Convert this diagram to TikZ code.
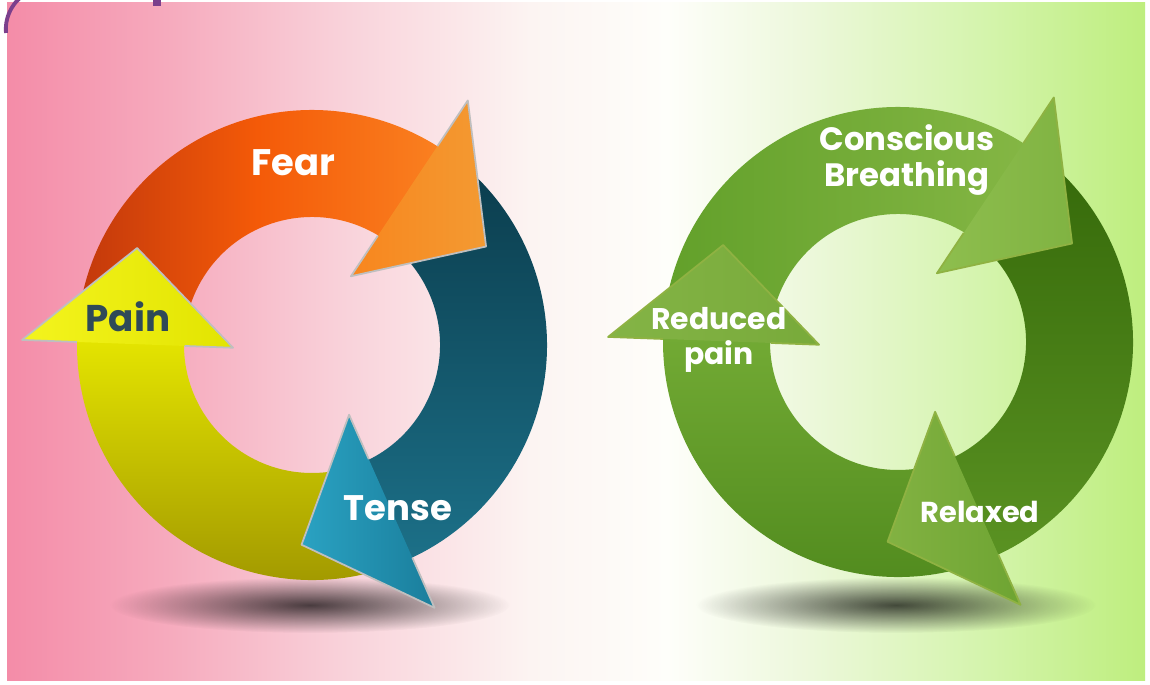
\documentclass[tikz,border=0pt]{standalone}
\usepackage{fontspec}
\setmainfont{Poppins}
\usetikzlibrary{fadings,calc}

\definecolor{bgpink}{HTML}{F48CA8}
\definecolor{bgpinkb}{HTML}{F6AABD}
\definecolor{bgpinkc}{HTML}{F9D3DB}
\definecolor{bgwhitea}{HTML}{FCF4F2}
\definecolor{bgwhiteb}{HTML}{FEFEFA}
\definecolor{bggreena}{HTML}{EDF8DC}
\definecolor{bggreenb}{HTML}{D4F4AC}
\definecolor{bggreen}{HTML}{BEEE7E}
\definecolor{gmark}{HTML}{7B3F8C}
\definecolor{paintext}{HTML}{2F4A58}
\definecolor{orA}{HTML}{C2380C}
\definecolor{orM}{HTML}{F45A08}
\definecolor{orB}{HTML}{FA8020}
\definecolor{orC}{HTML}{F8861E}
\definecolor{orD}{HTML}{F39A32}
\definecolor{teA}{HTML}{0A3A4A}
\definecolor{teB}{HTML}{1C7088}
\definecolor{teC}{HTML}{2AA2C2}
\definecolor{teD}{HTML}{1A7E9C}
\definecolor{yeA}{HTML}{E4E400}
\definecolor{yeB}{HTML}{9A9000}
\definecolor{yeC}{HTML}{F4F41E}
\definecolor{yeD}{HTML}{E2E400}
\definecolor{gtA}{HTML}{62A02A}
\definecolor{gtB}{HTML}{84B644}
\definecolor{ghA}{HTML}{8EBE4E}
\definecolor{ghB}{HTML}{80B342}
\definecolor{grA}{HTML}{346809}
\definecolor{grB}{HTML}{5A9222}
\definecolor{gxA}{HTML}{82B242}
\definecolor{gxB}{HTML}{6EA432}
\definecolor{glA}{HTML}{72AA34}
\definecolor{glB}{HTML}{4E881C}
\definecolor{gpA}{HTML}{84B446}
\definecolor{gpB}{HTML}{78AA3A}

\pgfdeclarehorizontalshading{bgshade}{100bp}{color(0bp)=(bgpink); color(25bp)=(bgpink);
  color(32bp)=(bgpinkb); color(40bp)=(bgpinkc); color(48bp)=(bgwhitea); color(54bp)=(bgwhiteb);
  color(60bp)=(bggreena); color(68bp)=(bggreenb); color(75bp)=(bggreen); color(100bp)=(bggreen)}

\tikzfading[name=softedge, inner color=transparent!0, outer color=transparent!100]

% ring piece from angle #1 to angle #2, clockwise
\newcommand{\ringbody}[2]{(#1:2.35) arc[start angle=#1, end angle=#2, radius=2.35]
  -- (#2:1.28) arc[start angle=#2, end angle=#1, radius=1.28] -- cycle}
% arrow head whose base sits at angle #1
\newcommand{\ringhead}[1]{(#1:2.90) -- ({#1-28}:2.0) -- ({#1+3}:0.79) -- cycle}
% its rim, left open where the body joins
\newcommand{\headrim}[1]{($(#1:2.90)!0.26!({#1+3}:0.79)$) -- (#1:2.90) -- ({#1-28}:2.0)
  -- ({#1+3}:0.79) -- ($(#1:2.90)!0.77!({#1+3}:0.79)$)}

\tikzset{
  headline/.style={draw=black!25, line width=0.5pt, line join=round},
  greenline/.style={draw=white!65!green!40!olive, line width=0.5pt, line join=round},
  lbl/.style={font=\bfseries\fontsize{#1}{10}\selectfont, text=white, align=center, inner sep=0pt},
  lbl/.default=10
}

\begin{document}
\begin{tikzpicture}
\useasboundingbox (0,0) rectangle (11.5,6.85);
\fill[white] (0,0) rectangle (11.5,6.85);
\shade[shading=bgshade] (0.07,0.04) rectangle (11.45,6.82);
\draw[gmark, line width=1.1pt] (0.06,6.52) arc[start angle=185, end angle=110, radius=0.42];
\fill[gmark] (1.53,6.79) rectangle (1.61,6.85);

\foreach \x in {3.10,8.96}
  \fill[black, opacity=.7, path fading=softedge] (\x,0.80) ellipse [x radius=2.0, y radius=0.28];

\begin{scope}[shift={(3.12,3.40)}]
\shade[left color=orA, right color=orB, middle color=orM] \ringbody{179}{57.5};
\shade[top color=teA, bottom color=teB] \ringbody{57.5}{-65};
\shade[top color=yeA, bottom color=yeB] \ringbody{-65}{-181};
\shade[left color=orC, right color=orD] \ringhead{57.5};
\shade[left color=teC, right color=teD] \ringhead{-65};
\shade[left color=yeC, right color=yeD] \ringhead{179};
\foreach \a in {57.5,-65,179}
  \draw[headline] \headrim{\a};
\end{scope}

\begin{scope}[shift={(8.98,3.43)}]
\shade[left color=gtA, right color=gtB] \ringbody{179}{57.5};
\shade[top color=grA, bottom color=grB] \ringbody{57.5}{-65};
\shade[top color=glA, bottom color=glB] \ringbody{-65}{-181};
\shade[left color=ghA, right color=ghB] \ringhead{57.5};
\shade[left color=gxA, right color=gxB] \ringhead{-65};
\shade[left color=gpA, right color=gpB] \ringhead{179};
\foreach \a in {57.5,-65,179}
  \draw[greenline] \headrim{\a};
\end{scope}

\node[lbl=10.5] (fear) at (2.93,5.22) {Fear};
\node[lbl=10.6, text=paintext] (pain) at (1.28,3.68) {Pain};
\node[lbl=10.1] (tense) at (3.98,1.77) {Tense};
\node[lbl=9.2] (breath) at (9.07,5.25) {Conscious\\Breathing};
\node[lbl=8.5] (reduced) at (7.19,3.45) {Reduced\\pain};
\node[lbl=8.2] (relaxed) at (9.80,1.73) {Relaxed};
\end{tikzpicture}
\end{document}
